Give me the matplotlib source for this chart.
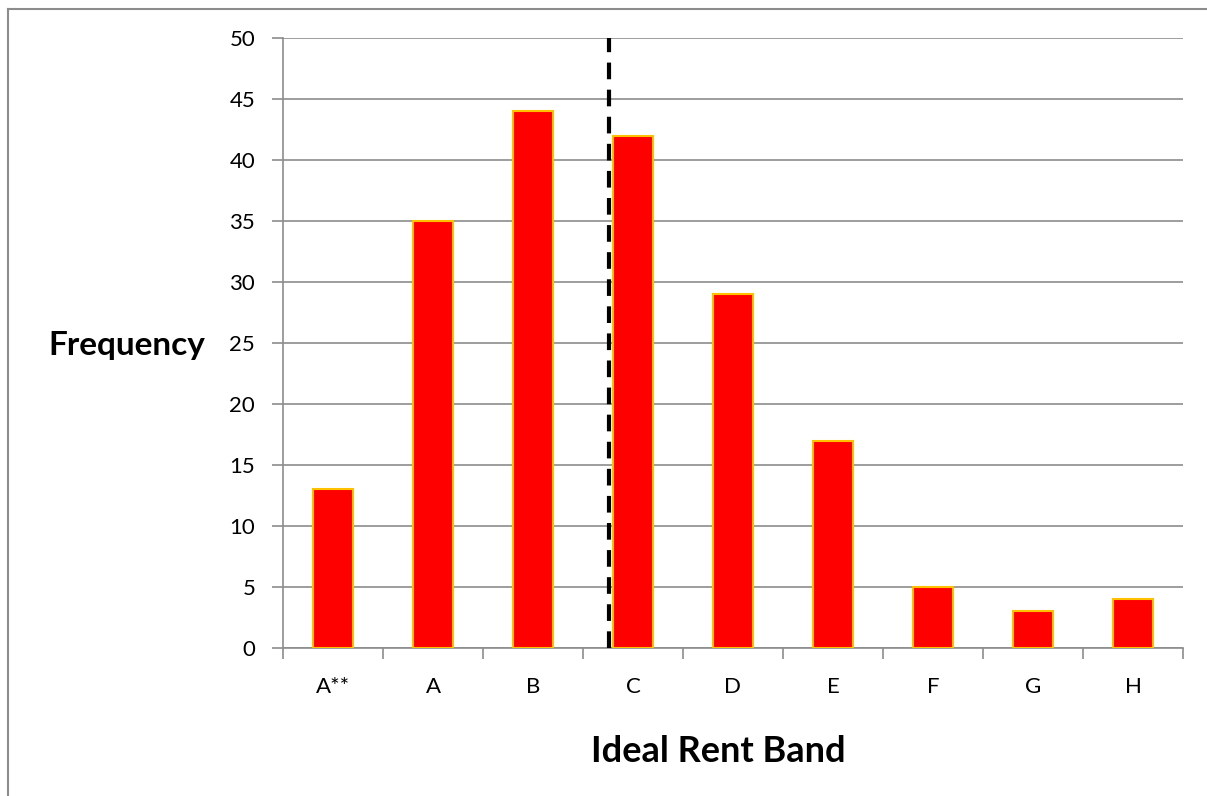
import matplotlib
matplotlib.use("Agg")
import matplotlib.pyplot as plt
from matplotlib.lines import Line2D

categories = ["A**", "A", "B", "C", "D", "E", "F", "G", "H"]
frequency = [13, 35, 44, 42, 29, 17, 5, 3, 4]
y_ticks = [0, 5, 10, 15, 20, 25, 30, 35, 40, 45, 50]
marker_position = 2.76

W, H = 1207, 796
fig = plt.figure(figsize=(W / 100, H / 100), dpi=100)
plt.rcParams['font.family'] = ['Lato', 'DejaVu Sans']

ax = fig.add_axes([283 / W, 1 - 648 / H, 900 / W, 610 / H])
x = list(range(len(categories)))
ax.bar(x, frequency, width=0.4, color="#FF0000", edgecolor="#FFC000", linewidth=1.5, zorder=3)
ax.set_xlim(-0.5, len(categories) - 0.5)
ax.set_ylim(0, 50)
ax.set_yticks(y_ticks)
ax.set_yticklabels([str(v) for v in y_ticks], fontsize=16)
ax.yaxis.grid(True, color="#8c8c8c", linewidth=1.2, zorder=0)
ax.set_xticks([i - 0.5 for i in range(len(categories) + 1)])
ax.set_xticklabels([])
ax.set_xticks(x, minor=True)
ax.set_xticklabels(categories, minor=True, fontsize=16)
ax.tick_params(axis='x', which='major', direction='out', length=8, color="#8c8c8c", width=1.2)
ax.tick_params(axis='x', which='minor', length=0, pad=21)
ax.tick_params(axis='y', direction='out', length=8, color="#8c8c8c", width=1.2, pad=12)
for s in ['top', 'right']:
    ax.spines[s].set_visible(False)
for s in ['left', 'bottom']:
    ax.spines[s].set_color("#8c8c8c")
    ax.spines[s].set_linewidth(1.2)
ax.axvline(marker_position, color="black", linestyle=(0, (4, 2.5)), linewidth=3, zorder=4)

ax.set_ylabel("Frequency", fontsize=24, fontweight='bold', rotation=0, labelpad=0)
ax.yaxis.set_label_coords(-(283 - 127) / 900, (648 - 345) / 610)
ax.yaxis.label.set_ha('center')
ax.yaxis.label.set_va('center')
ax.set_xlabel("Ideal Rent Band", fontsize=26, fontweight='bold')
ax.xaxis.set_label_coords((718 - 283) / 900, -(752 - 648) / 610)
ax.xaxis.label.set_va('center')

# outer chart border (top and left edges)
fig.add_artist(Line2D([8 / W, 8 / W], [1 - 9 / H, 0], color="#8c8c8c", linewidth=1.5, transform=fig.transFigure))
fig.add_artist(Line2D([8 / W, 1], [1 - 9 / H, 1 - 9 / H], color="#8c8c8c", linewidth=1.5, transform=fig.transFigure))

fig.savefig("out.png", dpi=100)
